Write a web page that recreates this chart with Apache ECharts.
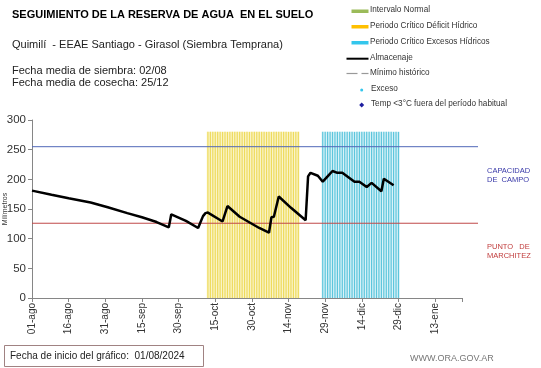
<!DOCTYPE html>
<html><head><meta charset="utf-8">
<script src="https://cdn.jsdelivr.net/npm/echarts@6/dist/echarts.min.js"></script>
<style>html,body{margin:0;padding:0;background:#fff}#c{width:541px;height:368px}</style>
</head><body><div id="c"></div>
<script>
// Day index 0 = 01-ago-2024
const tickLabels = ['01-ago','16-ago','31-ago','15-sep','30-sep','15-oct','30-oct','14-nov','29-nov','14-dic','29-dic','13-ene'];
const almacenaje = [
 [0,181],[8,174],[15,168],[24,161],[31,153],[39,143],[45,136],[51,128],[56,119],
 [57,141],[63,130],[68,118],[69,128],[70,138],[71,143],[72,144],[78,129],
 [80,155],[85,137],[93,118],[97,110],[98,136],[99,137],[101,171],[106,152],[112,131],
 [113,205],[114,211],[117,206],[119,196],[121,205],[123,214],[125,211],[127,211],
 [132,196],[134,196],[137,187],[139,194],[143,180],[144,201],[148,190]
];
const deficitDays = [72,73,74,75,76,77,78,79,80,81,82,83,84,85,86,87,88,89,90,91,92,93,94,95,96,97,98,99,100,101,102,103,104,105,106,107,108,109];
const excesoDays = [119,120,121,122,123,124,125,126,127,128,129,130,131,132,133,134,135,136,137,138,139,140,141,142,143,144,145,146,147,148,149,150];
const periodBarHeight = 280;
const capacidadCampo = 255;
const puntoMarchitez = 126;

const chart = echarts.init(document.getElementById('c'));
const FONT = 'Liberation Sans, Arial, sans-serif';
function legendText(x, y, s){ return {type:'text', left:x, top:y-5, style:{text:s, fontSize:8.2, fontFamily:FONT, fill:'#333'}}; }
chart.setOption({
  animation:false,
  grid:[
    {left:32, right:79, top:120, bottom:70, containLabel:false, outerBoundsMode:'none'},
    {left:32, right:63, top:120, bottom:70, containLabel:false, outerBoundsMode:'none'}
  ],
  xAxis:[{type:'value', min:0, max:176, interval:15, gridIndex:0,
    axisLine:{lineStyle:{color:'#868686'}},
    axisTick:{length:4, lineStyle:{color:'#868686'}},
    splitLine:{show:false},
    axisLabel:{rotate:90, fontSize:10, fontFamily:FONT, color:'#333', margin:5,
      formatter:v=> (v%15===0 && tickLabels[v/15]) ? tickLabels[v/15] : ''}
  },
  {type:'value', min:0, max:1, gridIndex:1, show:false}],
  yAxis:[{type:'value', min:0, max:300, interval:50, gridIndex:0,
    name:'Milímetros', nameLocation:'middle', nameGap:23, nameRotate:90, nameMoveOverlap:false,
    nameTextStyle:{fontSize:7, fontFamily:FONT, color:'#333'},
    axisLine:{show:true, lineStyle:{color:'#868686'}},
    axisTick:{show:true, length:4, lineStyle:{color:'#868686'}},
    splitLine:{show:false},
    axisLabel:{fontSize:11.5, fontFamily:FONT, color:'#333', margin:6}
  },
  {type:'value', min:0, max:300, gridIndex:1, show:false}],
  series:[
    {type:'bar', name:'Periodo Crítico Déficit Hídrico', barWidth:1.2,
     itemStyle:{color:'#eedb5c'}, data:deficitDays.map(d=>[d,periodBarHeight]),
     markArea:{silent:true, itemStyle:{color:'rgba(250,243,196,0.9)'},
       data:[[{coord:[deficitDays[0]-0.5,0]},{coord:[deficitDays[deficitDays.length-1]+0.5,periodBarHeight]}]]}},
    {type:'bar', name:'Periodo Crítico Excesos Hídricos', barWidth:1.2, barGap:'-100%',
     itemStyle:{color:'#5cc6dc'}, data:excesoDays.map(d=>[d,periodBarHeight]),
     markArea:{silent:true, itemStyle:{color:'rgba(214,241,247,0.9)'},
       data:[[{coord:[excesoDays[0]-0.5,0]},{coord:[excesoDays[excesoDays.length-1]+0.5,periodBarHeight]}]]}},
    {type:'line', name:'Capacidad de campo', xAxisIndex:1, yAxisIndex:1, symbol:'none', silent:true, z:3,
     lineStyle:{color:'#5068b8', width:1}, data:[[0,capacidadCampo],[1,capacidadCampo]]},
    {type:'line', name:'Punto de marchitez', xAxisIndex:1, yAxisIndex:1, symbol:'none', silent:true, z:3,
     lineStyle:{color:'#c04848', width:1}, data:[[0,puntoMarchitez],[1,puntoMarchitez]]},
    {type:'line', name:'Almacenaje', symbol:'none', lineStyle:{color:'#000', width:2.5},
     data:almacenaje, z:5}
  ],
  graphic:[
    {type:'text', left:12, top:9, style:{text:'SEGUIMIENTO DE LA RESERVA DE AGUA  EN EL SUELO', fontSize:11, fontWeight:'bold', fontFamily:FONT, fill:'#000'}},
    {type:'text', left:12, top:39, style:{text:'Quimilí  - EEAE Santiago - Girasol (Siembra Temprana)', fontSize:11, fontFamily:FONT, fill:'#222'}},
    {type:'text', left:12, top:65, style:{text:'Fecha media de siembra: 02/08', fontSize:11, fontFamily:FONT, fill:'#222'}},
    {type:'text', left:12, top:77, style:{text:'Fecha media de cosecha: 25/12', fontSize:11, fontFamily:FONT, fill:'#222'}},
    {type:'rect', shape:{x:351.5, y:9.5, width:17, height:3.5}, style:{fill:'#9bbb59'}},
    legendText(370, 11, 'Intervalo Normal'),
    {type:'rect', shape:{x:351.5, y:25, width:17, height:3.5}, style:{fill:'#ffc000'}},
    legendText(370, 27, 'Periodo Crítico Déficit Hídrico'),
    {type:'rect', shape:{x:351.5, y:41, width:17, height:3.5}, style:{fill:'#33c6ec'}},
    legendText(370, 43, 'Periodo Crítico Excesos Hídricos'),
    {type:'line', shape:{x1:346.5, y1:58.7, x2:368.5, y2:58.7}, style:{stroke:'#000', lineWidth:2}},
    legendText(370, 59, 'Almacenaje'),
    {type:'line', shape:{x1:346.5, y1:73.5, x2:357.5, y2:73.5}, style:{stroke:'#999', lineWidth:1.2}},
    {type:'line', shape:{x1:361.5, y1:73.5, x2:368.5, y2:73.5}, style:{stroke:'#999', lineWidth:1.2}},
    legendText(370, 74, 'Mínimo histórico'),
    {type:'circle', shape:{cx:361.7, cy:90, r:1.5}, style:{fill:'#33c6ec'}},
    legendText(371, 90, 'Exceso'),
    {type:'polygon', shape:{points:[[361.7,102.5],[364.2,105],[361.7,107.5],[359.2,105]]}, style:{fill:'#1f1fa0'}},
    legendText(371, 105, 'Temp <3°C fuera del período habitual'),
    {type:'text', left:487, top:166, style:{text:'CAPACIDAD\nDE  CAMPO', fontSize:7.5, lineHeight:9, fontFamily:FONT, fill:'#3838a8'}},
    {type:'text', left:487, top:242, style:{text:'PUNTO   DE\nMARCHITEZ', fontSize:7.5, lineHeight:9, fontFamily:FONT, fill:'#c03c3c'}},
    {type:'rect', shape:{x:4.5, y:345.5, width:199, height:21}, style:{fill:'#fff', stroke:'#a08282', lineWidth:1}},
    {type:'text', left:10, top:351, style:{text:'Fecha de inicio del gráfico:  01/08/2024', fontSize:10, fontFamily:FONT, fill:'#222'}},
    {type:'text', left:410, top:354, style:{text:'WWW.ORA.GOV.AR', fontSize:9, fontFamily:FONT, fill:'#777'}}
  ]
});
</script></body></html>
